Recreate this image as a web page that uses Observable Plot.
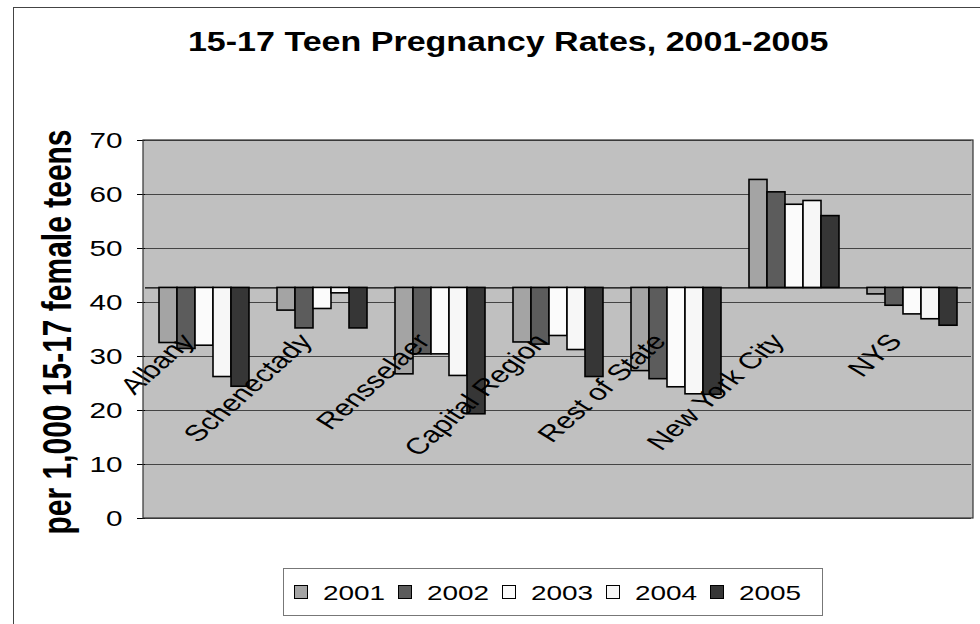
<!DOCTYPE html>
<html>
<head>
<meta charset="utf-8">
<script src="https://cdn.jsdelivr.net/npm/d3@7"></script>
<script src="https://cdn.jsdelivr.net/npm/@observablehq/plot@0.6"></script>
<style>
  html, body { margin: 0; padding: 0; background: #fff; }
  body { width: 980px; height: 624px; position: relative; overflow: hidden; font-family: "Liberation Sans", Arial, sans-serif; }
  #outer { position: absolute; left: 13px; top: 7px; width: 1100px; height: 800px; border-left: 1.5px solid #444; border-top: 1.5px solid #444; }
  #title { position: absolute; left: 0; top: 29px; width: 1016px; text-align: center; font-weight: bold; font-size: 27px; line-height: 27px; }
  #title span { display: inline-block; transform: scaleX(1.26); }
  #chart { position: absolute; left: 0; top: 120px; }
  #legend { position: absolute; left: 283px; top: 568px; width: 540px; height: 48px; border: 1px solid #777; background: #fff; display: flex; align-items: center; padding-left: 10px; box-sizing: border-box; }
  .item { display: flex; align-items: center; width: 104px; }
  .sw { width: 12px; height: 12px; border: 1px solid #000; margin-right: 15px; }
  .lab { width: 62px; font-size: 21px; line-height: 21px; white-space: nowrap; }
  .lab span { display: inline-block; transform: scaleX(1.33); transform-origin: 0 50%; }
</style>
</head>
<body>
<div id="outer"></div>
<div id="title"><span>15-17 Teen Pregnancy Rates, 2001-2005</span></div>
<div id="chart"></div>
<div id="legend"></div>
<script>
// ---- data ----
const categories = ["Albany", "Schenectady", "Rensselaer", "Capital Region", "Rest of State", "New York City", "NYS"];
const years = ["2001", "2002", "2003", "2004", "2005"];
const rates2001 = [32.5, 38.5, 26.7, 32.6, 27.3, 62.7, 41.5];
const rates2002 = [31.4, 35.2, 30.4, 32.2, 25.8, 60.4, 39.4];
const rates2003 = [32.0, 38.8, 30.4, 33.8, 24.3, 58.1, 37.8];
const rates2004 = [26.2, 41.7, 26.4, 31.2, 23.0, 58.8, 36.9];
const rates2005 = [24.4, 35.2, 19.3, 26.2, 22.9, 56.0, 35.7];
const yTicks = [0, 10, 20, 30, 40, 50, 60, 70];
const crossingValue = 42.7; // where the category axis crosses the value axis
const titleText = "15-17 Teen Pregnancy Rates, 2001-2005";
const yLabel = "per 1,000 15-17 female teens";

// ---- styles ----
const fills = ["#a4a4a4", "#5c5c5c", "#fbfbfb", "#f7f7f7", "#363636"];
const plotBg = "#c0c0c0";
const STRETCH = 1.35;

const series = [rates2001, rates2002, rates2003, rates2004, rates2005];
const rows = categories.flatMap((c, i) => years.map((y, j) => ({category: c, year: y, rate: series[j][i]})));

const W = 980, H = 420, mL = 143, mR = 7, mT = 20, mB = 22;

const svg = Plot.plot({
  width: W, height: H,
  marginLeft: mL, marginRight: mR, marginTop: mT, marginBottom: mB,
  style: {fontFamily: "'Liberation Sans', Arial, sans-serif", fontSize: "22px", background: "transparent", overflow: "visible", color: "#000"},
  fx: {domain: categories, padding: 0, axis: null, label: null},
  x: {domain: years, paddingInner: 0, paddingOuter: 0.65, axis: null},
  y: {domain: [0, 70], ticks: yTicks, tickSize: 8, tickPadding: 15, label: null},
  color: {domain: years, range: fills},
  marks: [
    Plot.ruleY(yTicks, {stroke: "#444", strokeWidth: 1}),
    Plot.ruleY([crossingValue], {stroke: "#000", strokeWidth: 1.2}),
    Plot.barY(rows, {fx: "category", x: "year", y1: () => crossingValue, y2: "rate", fill: "year", stroke: "#000", strokeWidth: 1.6}),
    Plot.text(categories, {fx: d => d, text: d => d, frameAnchor: "top", dx: -26, dy: 191, rotate: -50, textAnchor: "end", fontSize: 23, fill: "#000"})
  ]
});

// background + border of the plot area
const s = d3.select(svg);
s.insert("rect", "g")
  .attr("x", mL).attr("y", mT).attr("width", W - mL - mR).attr("height", H - mT - mB)
  .attr("fill", plotBg);
s.append("rect")
  .attr("x", mL).attr("y", mT).attr("width", W - mL - mR).attr("height", H - mT - mB)
  .attr("fill", "none").attr("stroke", "#333").attr("stroke-width", 1.2);

// horizontally stretched text, as in the scanned original
svg.querySelectorAll('g[aria-label^="y-axis"] text').forEach(t => {
  const tr = t.getAttribute("transform") || "";
  const x = +(t.getAttribute("x") || 0);
  t.removeAttribute("x");
  t.setAttribute("transform", `${tr} translate(${x},0) scale(${STRETCH},1)`);
});
svg.querySelectorAll("[transform]").forEach(el => {
  const tr = el.getAttribute("transform");
  if (tr.includes("rotate(-50)")) el.setAttribute("transform", tr.replace("rotate(-50)", `scale(${STRETCH},1) rotate(-50)`));
});

// y-axis title
s.append("text")
  .attr("transform", `translate(71,${(mT + H - mB) / 2 + 3}) scale(${STRETCH},1) rotate(-90)`)
  .attr("text-anchor", "middle")
  .attr("font-weight", "bold")
  .attr("font-size", 30)
  .attr("fill", "#000")
  .text(yLabel);

document.getElementById("chart").appendChild(svg);
document.querySelector("#title span").textContent = titleText;

// legend
const legend = d3.select("#legend");
years.forEach((y, i) => {
  const it = legend.append("div").attr("class", "item");
  it.append("div").attr("class", "sw").style("background", fills[i]);
  it.append("div").attr("class", "lab").append("span").text(y);
});
</script>
</body>
</html>
